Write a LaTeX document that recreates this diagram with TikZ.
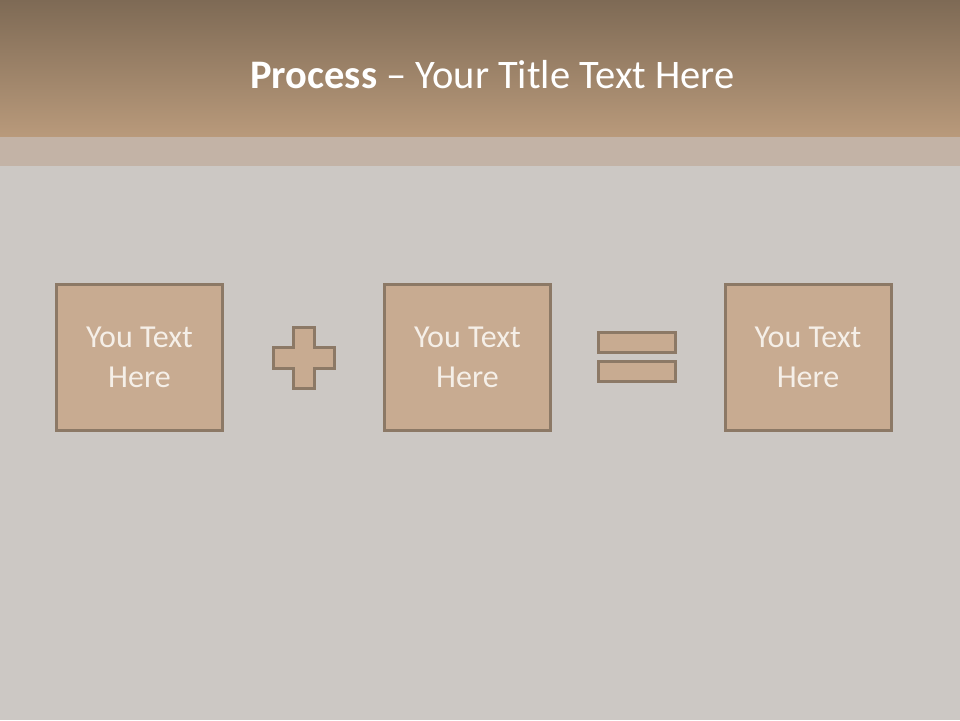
\documentclass[tikz,border=0pt]{standalone}
\usepackage{fontspec}
\setmainfont{Carlito}
\definecolor{hdrtop}{HTML}{7E6A55}
\definecolor{hdrbot}{HTML}{B99A7B}
\definecolor{band}{HTML}{C3B3A6}
\definecolor{bg}{HTML}{CCC8C4}
\definecolor{boxfill}{HTML}{C8AB91}
\definecolor{boxline}{HTML}{8C7966}
\definecolor{boxtext}{HTML}{F5EFE8}
\tikzset{
  procbox/.style={draw=boxline, line width=3pt, fill=boxfill, minimum width=166pt, minimum height=146pt, inner sep=0pt, align=center, text=boxtext, font=\fontsize{32}{40}\selectfont},
  symbolshape/.style={draw=boxline, line width=3pt, fill=boxfill}
}
\begin{document}
\begin{tikzpicture}[x=1pt,y=-1pt]
\useasboundingbox (0,0) rectangle (960,720);
\fill[bg] (0,0) rectangle (960,720);
\shade[top color=hdrtop, bottom color=hdrbot] (0,0) rectangle (960,137);
\fill[band] (0,137) rectangle (960,166);
\node[text=white, font=\fontsize{40.5}{48}\selectfont, anchor=center] (title) at (492.5,75) {\textbf{Process} -- Your Title Text Here};
\node[procbox] (b1) at (139.5,357.5) {You Text\\Here};
\node[procbox] (b2) at (467.5,357.5) {You Text\\Here};
\node[procbox] (b3) at (808,357.5) {You Text\\Here};
\draw[symbolshape] (293.5,327.5) -- (314.5,327.5) -- (314.5,347.5) -- (334.5,347.5) -- (334.5,368.5) -- (314.5,368.5) -- (314.5,388) -- (293.5,388) -- (293.5,368.5) -- (273.5,368.5) -- (273.5,347.5) -- (293.5,347.5) -- cycle;
\draw[symbolshape] (598,332.5) rectangle (675,352);
\draw[symbolshape] (598,361.5) rectangle (675,381.5);
\end{tikzpicture}
\end{document}
